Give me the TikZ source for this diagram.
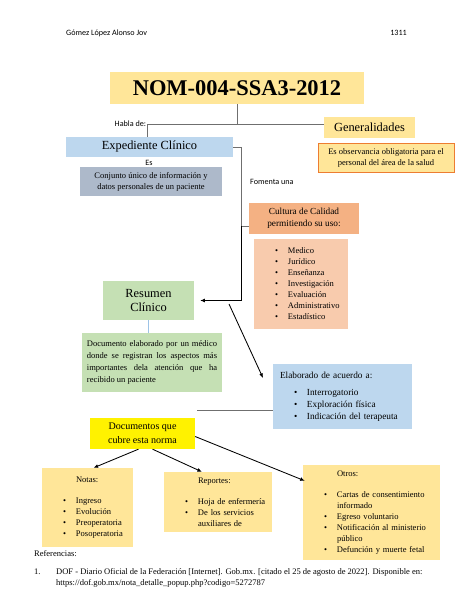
\documentclass[tikz,border=0pt]{standalone}
\usepackage{fontspec}
\setmainfont{Liberation Serif}
\newfontfamily\calib{Carlito}
\usetikzlibrary{arrows.meta}
\newlength{\px}
\setlength{\px}{1.291pt}
\newcommand{\itm}{\hspace*{21\px}\makebox[13\px][l]{\textbullet}}
\newcommand{\itmc}{\hspace*{34\px}}
\definecolor{gold}{HTML}{FFE699}
\definecolor{skyb}{HTML}{BDD7EE}
\definecolor{slate}{HTML}{ADB9CA}
\definecolor{peach}{HTML}{F4B183}
\definecolor{peachl}{HTML}{F8CBAD}
\definecolor{sage}{HTML}{C5E0B4}
\definecolor{linegray}{HTML}{6F6F6F}
\definecolor{orng}{HTML}{ED7D31}
\definecolor{thinblue}{HTML}{9DC3E6}
\tikzset{
  box/.style={inner sep=0pt, align=center},
  wh/.style 2 args={minimum width=#1\px, minimum height=#2\px},
  lst/.style 2 args={inner sep=0pt, align=left, text width=#1\px, minimum height=#2\px},
  lbl/.style={font=\calib\fontsize{10.5}{12}\selectfont, inner sep=0pt},
  gline/.style={draw=linegray, line width=0.8pt},
  arr/.style={-{Latex[length=6pt,width=5pt]}, line width=1.1pt}
}

\begin{document}
\begin{tikzpicture}[x=1.291pt, y=-1.291pt, font=\fontsize{11}{14.2}\selectfont]
  \useasboundingbox (0,0) rectangle (474,613);
  \node[lbl, anchor=west] (autor) at (66,33) {Gómez López Alonso Jov};
  \node[lbl, anchor=east] (num) at (407,33) {1311};

  \node[box, fill=gold, wh={254}{32}, font=\bfseries\fontsize{29}{32}\selectfont] (title) at (237,88) {NOM-004-SSA3-2012};
  \node[box, fill=gold, wh={91}{21}, font=\fontsize{16}{19}\selectfont] (gen) at (369.5,127.5) {Generalidades};
  \node[box, fill=gold, draw=orng, line width=0.8pt, wh={136}{29}] (obs) at (386,157.5) {Es observancia obligatoria para el\\personal del área de la salud};
  \node[box, fill=skyb, wh={167}{20}, font=\fontsize{16}{19}\selectfont] (exp) at (149.5,147) {Expediente Clínico};
  \node[lbl] (es) at (149,163) {Es};
  \node[box, fill=slate, wh={142}{29}] (conj) at (151,181.5) {Conjunto único de información y\\datos personales de un paciente};
  \node[lbl, anchor=west] (fom) at (250,182) {Fomenta una};

  \node[box, fill=peach, wh={110}{31}, font=\fontsize{12}{16}\selectfont] (cult) at (304,218.5) {Cultura de Calidad\\permitiendo su uso:};
  \node[lst={94}{90}, fill=peachl] (usos) at (301,284) {\itm Medico\\\itm Jurídico\\\itm Enseñanza\\\itm Investigación\\\itm Evaluación\\\itm Administrativo\\\itm Estadístico};

  \node[box, fill=sage, wh={91}{39}, font=\fontsize{16}{19}\selectfont] (res) at (148.5,300.5) {Resumen\\Clínico};
  \node[fill=sage, inner xsep=6.5pt, inner ysep=0pt, text width=168pt, minimum height=59\px, align=justify, font=\fontsize{11}{15.5}\selectfont] (desc) at (152,362.5) {Documento elaborado por un médico\linebreak donde se registran los aspectos más\linebreak importantes dela atención que ha\linebreak recibido un paciente};

  \node[lst={139}{65}, fill=skyb, font=\fontsize{12}{15.5}\selectfont] (elab) at (342.5,396.5) {\hspace*{7\px}Elaborado de acuerdo a:\\[7pt]\itm Interrogatorio\\\itm Exploración física\\\itm Indicación del terapeuta};

  \node[box, fill=yellow, wh={105}{31}, font=\fontsize{13}{18}\selectfont] (doc) at (142.5,433.5) {Documentos que\\cubre esta norma};
  \node[lst={91}{79}, fill=gold] (notas) at (87.5,507.5) {\itmc Notas:\\[12.5pt]\itm Ingreso\\\itm Evolución\\\itm Preoperatoria\\\itm Posoperatoria};
  \node[lst={108}{60}, fill=gold] (rep) at (218,502) {\itmc Reportes:\\[12.5pt]\itm Hoja~de~enfermería\\\itm De los servicios\\\itmc auxiliares de};
  \node[lst={137}{95}, fill=gold] (otros) at (371.5,512.5) {\itmc Otros:\\[12.5pt]\itm Cartas de consentimiento\\\itmc informado\\\itm Egreso voluntario\\\itm Notificación al ministerio\\\itmc público\\\itm Defunción y muerte fetal};

  \node[anchor=west, inner sep=0pt] (refh) at (34,554) {Referencias:};
  \node[anchor=west, inner sep=0pt] (refn) at (34,572) {1.};
  \node[anchor=north west, align=left, inner sep=0pt] (reft) at (56,568) {DOF - Diario Oficial de la Federación [Internet]. Gob.mx. [citado el 25 de agosto de 2022]. Disponible en:\\https://dof.gob.mx/nota\_detalle\_popup.php?codigo=5272787};

  \coordinate (hab) at (147,124);
  \node[lbl, anchor=east] (habla) at ([xshift=-1pt]hab) {Habla de:};
  \draw[gline] (title.south) -- (title.south |- hab);
  \draw[gline] (hab) -- (hab -| gen.west);
  \draw[gline] (hab) -- (hab |- exp.north);
  \coordinate (brk) at (241,226);
  \draw[gline] (exp.east) -| (brk) -- (brk -| cult.west);
  \draw[arr] (brk) |- ([xshift=6\px]res.east);
  \draw[draw=thinblue, line width=0.6pt] (res.south) -- (res.south |- desc.north);
  \coordinate (d1) at (229,304);
  \coordinate (d2) at (263,378);
  \draw[arr] (d1) -- (d2);
  \coordinate (e1) at (197,410);
  \draw[gline] (e1) -- (e1 -| elab.west);
  \draw[arr] ([xshift=-4\px]doc.south) -- ([xshift=6\px]notas.north);
  \draw[arr] ([xshift=10\px]doc.south) -- ([xshift=-16\px]rep.north);
  \draw[arr] ([yshift=-3\px]doc.east) -- ([shift={(2,16)}]otros.north west);
\end{tikzpicture}
\end{document}
